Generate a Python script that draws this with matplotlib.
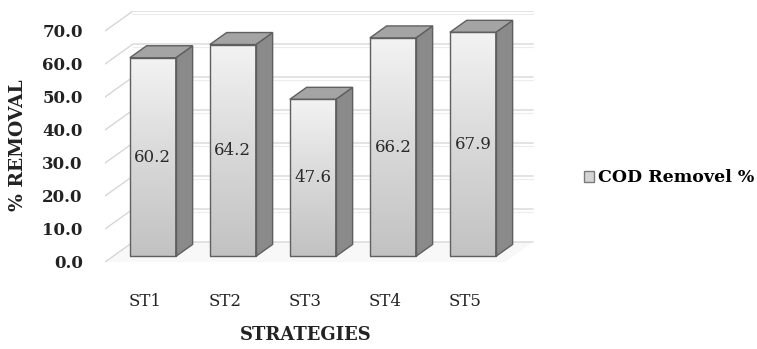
import numpy as np
import matplotlib
matplotlib.use("Agg")
import matplotlib.pyplot as plt
from matplotlib.patches import Polygon, Patch
from matplotlib.colors import LinearSegmentedColormap

categories = ["ST1", "ST2", "ST3", "ST4", "ST5"]
values = [60.2, 64.2, 47.6, 66.2, 67.9]
value_labels = ["60.2", "64.2", "47.6", "66.2", "67.9"]
yticks = [0, 10, 20, 30, 40, 50, 60, 70]
ytick_labels = ["0.0", "10.0", "20.0", "30.0", "40.0", "50.0", "60.0", "70.0"]
series_name = "COD Removel %"

W, H = 757, 349
fig = plt.figure(figsize=(W / 100, H / 100), dpi=100)

# axes placement (pixel layout)
AX_L, AX_R, AX_B, AX_T = 105, 535, 262, 11
ax = fig.add_axes([AX_L / W, (H - AX_B) / H, (AX_R - AX_L) / W, (AX_B - AX_T) / H])

YMAX = 70
DX = 0.35     # depth offset in x units
DY = 6.06     # depth offset in y units
XL, XR = -0.5, len(categories) - 0.5
ax.set_xlim(XL, XL + (AX_R - AX_L) / 80)
ax.set_ylim(0, YMAX + DY)

SERIF = "DejaVu Serif"
TXT = "#222222"

# floor and side wall
ax.add_patch(Polygon([(XL, 0), (XR, 0), (XR + DX, DY), (XL + DX, DY)],
                     closed=True, facecolor="#f8f8f8", edgecolor="none", zorder=0))
ax.add_patch(Polygon([(XL, 0), (XL + DX, DY), (XL + DX, YMAX + DY), (XL, YMAX)],
                     closed=True, facecolor="white", edgecolor="none", zorder=0))

# gridlines on side wall and back wall
for v in yticks:
    ax.plot([XL, XL + DX, XR + DX], [v, v + DY, v + DY], color="#d3d3d3", lw=0.9, zorder=1)
    if v > 0:
        ax.plot([XL + DX, XR + DX], [v + DY - 0.9, v + DY - 0.9], color="#ececec", lw=0.8, zorder=1)

# bars
BW = 0.575
d0, d1 = 0.28, 0.88
ddx, ddy = (d1 - d0) * DX, (d1 - d0) * DY
x = np.arange(len(categories))
bars = ax.bar(x + d0 * DX, values, width=BW, bottom=d0 * DY,
              facecolor="none", edgecolor="#5f5f5f", linewidth=1.0, zorder=4)

cmap = LinearSegmentedColormap.from_list("g", ["#c2c2c2", "#d9d9d9", "#f3f3f3"])
grad = np.linspace(0, 1, 256).reshape(-1, 1)
for rect, v in zip(bars.patches, values):
    xl = rect.get_x()
    xr = xl + rect.get_width()
    b = rect.get_y()
    t = b + rect.get_height()
    im = ax.imshow(grad, extent=[xl, xr, b, t], origin="lower", cmap=cmap,
                   aspect="auto", zorder=3, interpolation="bilinear")
    im.set_clip_path(rect)
    # side face
    ax.add_patch(Polygon([(xr, b), (xr + ddx, b + ddy), (xr + ddx, t + ddy), (xr, t)],
                         closed=True, facecolor="#8a8a8a", edgecolor="#5f5f5f", lw=1.0, zorder=3))
    # top face
    ax.add_patch(Polygon([(xl, t), (xr, t), (xr + ddx, t + ddy), (xl + ddx, t + ddy)],
                         closed=True, facecolor="#a4a4a4", edgecolor="#5f5f5f", lw=1.0, zorder=3))

ax.set_xlim(XL, XL + (AX_R - AX_L) / 80)
ax.set_ylim(0, YMAX + DY)

# value labels
for xi, v, lab in zip(x, values, value_labels):
    ax.text(xi + d0 * DX, d0 * DY + v / 2, lab, ha="center", va="center",
            fontsize=12, family=SERIF, color="#2a2a2a", zorder=6)

# ticks
ax.set_yticks(yticks)
ax.set_yticklabels(ytick_labels, family=SERIF, fontweight="bold", fontsize=12, color=TXT)
ax.set_xticks(x)
ax.set_xticklabels(categories, family=SERIF, fontsize=12, color=TXT)
ax.tick_params(axis="y", length=0, pad=16)
ax.tick_params(axis="x", length=0, pad=22)
for s in ax.spines.values():
    s.set_visible(False)
ax.set_facecolor("none")

# axis titles
fig.text(18 / W, 1 - 145 / H, "% REMOVAL", rotation=90, ha="center", va="center",
         family=SERIF, fontweight="bold", fontsize=13.5, color=TXT)
fig.text(306 / W, 1 - 335 / H, "STRATEGIES", ha="center", va="center",
         family=SERIF, fontweight="bold", fontsize=13, color=TXT)

# legend
handle = Patch(facecolor="#d4d4d4", edgecolor="#7a7a7a", linewidth=1.0)
fig.legend(handles=[handle], labels=[series_name], loc="center left",
           bbox_to_anchor=(584 / W, 1 - 178 / H), frameon=False,
           prop=dict(family=SERIF, weight="bold", size=12.5),
           handlelength=0.55, handleheight=0.55, handletextpad=0.25,
           borderpad=0, borderaxespad=0)

fig.savefig("out.png", dpi=100)
